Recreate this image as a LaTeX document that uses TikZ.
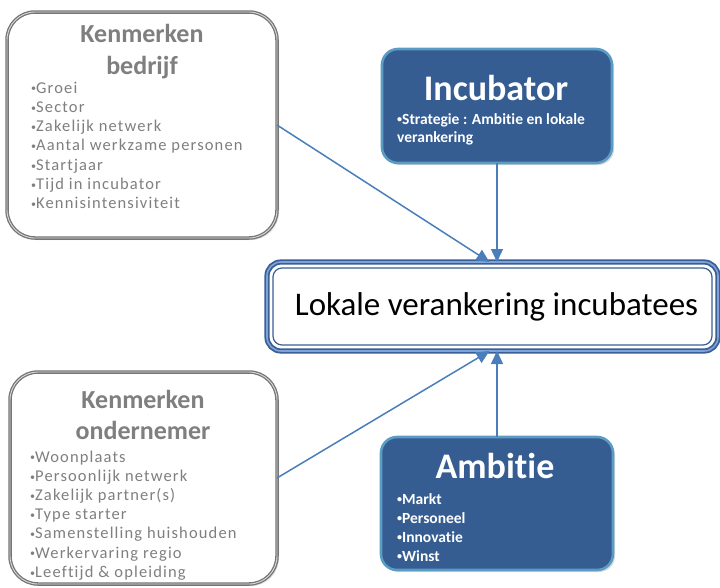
\documentclass[tikz,border=0pt]{standalone}
\usepackage{fontspec}
\setmainfont{Carlito}[Ligatures={NoCommon,NoContextual}]
\newfontfamily\itemfont{Carlito}[Ligatures={NoCommon,NoContextual},LetterSpace=7]
\usetikzlibrary{arrows.meta,shadows,calc}
\definecolor{boxblue}{HTML}{355D91}
\definecolor{boxedge}{HTML}{5A9CC4}
\definecolor{arrowblue}{HTML}{4A7EBB}
\definecolor{txtgray}{HTML}{7F7F7F}
\definecolor{edgegray}{HTML}{757575}
\definecolor{lokdark}{HTML}{3A5F96}
\definecolor{loklight}{HTML}{7FA3D6}
\newcommand{\bul}{{\fontsize{10}{10}\selectfont\raisebox{1.2pt}{•}}}
\begin{document}
\begin{tikzpicture}[x=1pt,y=-1pt,
  graybox/.style={draw=edgegray, line width=1.3pt, double=gray!30, double distance=0.9pt,
    fill=white, rounded corners=28pt, outer sep=0pt, inner sep=0pt,
    drop shadow={opacity=0.25, shadow xshift=2pt, shadow yshift=-2pt}},
  bluebox/.style={draw=boxedge, line width=2.6pt, fill=boxblue, rounded corners=16pt,
    outer sep=0pt, inner sep=0pt,
    drop shadow={opacity=0.3, shadow xshift=2pt, shadow yshift=-2pt}},
  lokbox/.style={draw=lokdark, line width=1.8pt, double=loklight, double distance=1.6pt,
    fill=white, rounded corners=14pt, outer sep=0pt, inner sep=0pt,
    drop shadow={opacity=0.3, shadow xshift=2pt, shadow yshift=-2pt}},
  gtitle/.style={text=txtgray, font=\fontsize{26}{31}\selectfont\bfseries, inner sep=0pt},
  gitem/.style={text=txtgray, font=\itemfont\fontsize{16.5}{19}\selectfont, inner sep=0pt},
  wtitle/.style={text=white, font=\fontsize{36}{40}\selectfont\bfseries, inner sep=0pt},
  witem/.style={text=white, font=\fontsize{15.5}{18}\selectfont\bfseries, inner sep=0pt},
  conn/.style={draw=arrowblue, line width=1.5pt, -{Triangle[length=13pt,width=12pt]}},
]
\useasboundingbox (0,0) rectangle (720,587);

% boxes
\node[graybox, minimum width=270pt, minimum height=226pt] (bed) at (142,125) {};
\node[graybox, minimum width=267pt, minimum height=212pt] (ond) at (143.5,478) {};
\node[bluebox, minimum width=230pt, minimum height=114pt] (inc) at (497,106) {};
\node[bluebox, minimum width=232pt, minimum height=133pt] (amb) at (497,503.5) {};
\node[lokbox, minimum width=451pt, minimum height=89pt] (lok) at (492.5,306.5) {};
\draw[lokdark, line width=1.2pt, rounded corners=9pt]
  ($(lok.north west)+(6,6)$) rectangle ($(lok.south east)+(-6,-6)$);

% texts
\node[font=\fontsize{33}{38}\selectfont, text=black, inner sep=0pt] (lokt) at ($(lok.center)+(4,0)$) {Lokale verankering incubatees};

\node[gtitle, anchor=base] (bedt1) at (142,42) {Kenmerken};
\node[gtitle, anchor=base] (bedt2) at (142,74) {bedrijf};
\foreach \t [count=\i] in {Groei,Sector,Zakelijk netwerk,Aantal werkzame personen,Startjaar,Tijd in incubator,Kennisintensiviteit}
  \node[gitem, anchor=base west] (bedi\i) at (31,{93+19.3*(\i-1)}) {\bul\t};

\node[gtitle, anchor=base] (ondt1) at (143,408) {Kenmerken};
\node[gtitle, anchor=base] (ondt2) at (143,439) {ondernemer};
\foreach \t [count=\i] in {Woonplaats,Persoonlijk netwerk,Zakelijk partner(s),Type starter,Samenstelling huishouden,Werkervaring regio,Leeftijd \& opleiding}
  \node[gitem, anchor=base west] (ondi\i) at (30,{462+19.2*(\i-1)}) {\bul\t};

\node[wtitle, anchor=base] (inct) at (496,100) {Incubator};
\node[witem, anchor=base west] (inci1) at (397,124) {\bul Strategie : Ambitie en lokale};
\node[witem, anchor=base west] (inci2) at (397,142) {verankering};

\node[wtitle, anchor=base] (ambt) at (495,478) {Ambitie};
\foreach \t [count=\i] in {Markt,Personeel,Innovatie,Winst}
  \node[witem, anchor=base west] (ambi\i) at (397,{504+19*(\i-1)}) {\bul\t};

% connectors
\coordinate (topin) at ($(lok.north)+(-3,0)$);
\coordinate (botin) at ($(lok.south)+(-3,0)$);
\draw[conn] (bed.east) -- (topin);
\draw[conn] (inc.south) -- (inc.south |- lok.north);
\draw[conn] (ond.east) -- (botin);
\draw[conn] (inc.south |- amb.north) -- (inc.south |- lok.south);
\end{tikzpicture}
\end{document}
